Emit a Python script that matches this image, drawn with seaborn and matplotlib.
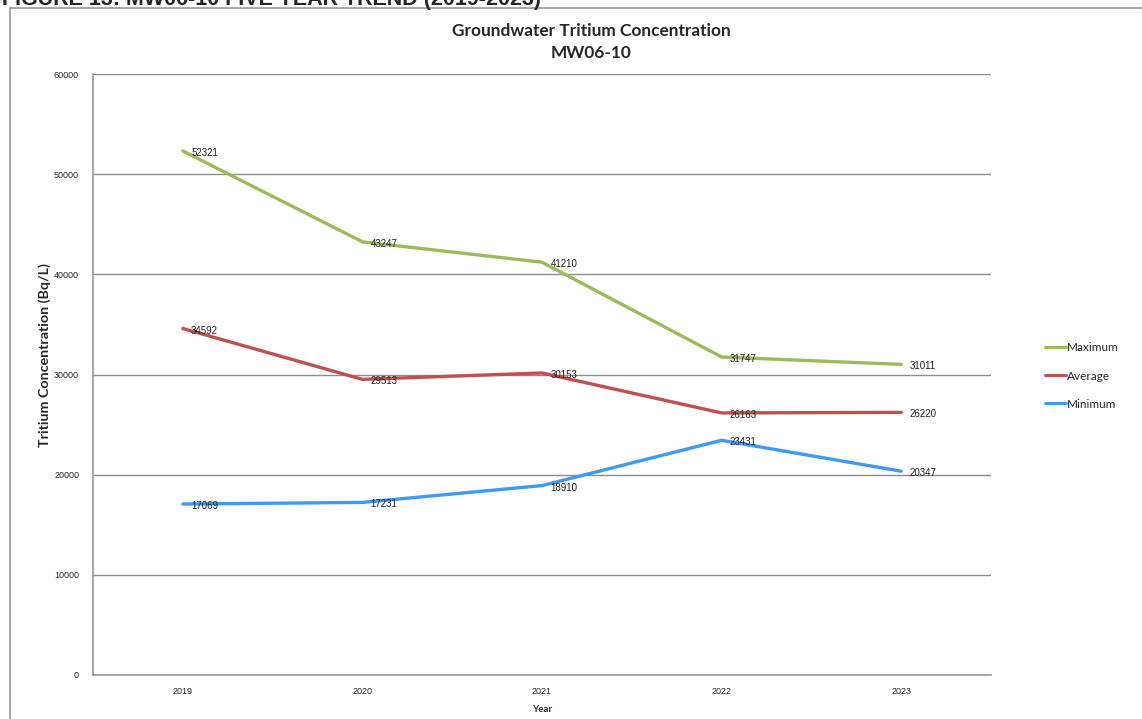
import matplotlib
matplotlib.use("Agg")
import matplotlib.pyplot as plt
from matplotlib.lines import Line2D
import pandas as pd
import seaborn as sns

years = ["2019", "2020", "2021", "2022", "2023"]
maximum = [52321, 43247, 41210, 31747, 31011]
average = [34592, 29513, 30153, 26163, 26220]
minimum = [17069, 17231, 18910, 23431, 20347]
series_names = ["Maximum", "Average", "Minimum"]
y_ticks = [0, 10000, 20000, 30000, 40000, 50000, 60000]

colors = {"Maximum": "#9BBB59", "Average": "#C0504D", "Minimum": "#3D9BF7"}

df = pd.DataFrame({"Year": years, "Maximum": maximum,
                   "Average": average, "Minimum": minimum})
long = df.melt(id_vars="Year", var_name="Series", value_name="Value")
long["x"] = long["Year"].map({y: i for i, y in enumerate(years)})

sns.set_theme(style="white")
plt.rcParams["font.family"] = ["Lato", "DejaVu Sans"]

fig = plt.figure(figsize=(11.42, 7.19), dpi=100)
ax = fig.add_axes([93 / 1142, 1 - 675 / 719, (991 - 93) / 1142, (675 - 74) / 719])

sns.lineplot(data=long, x="x", y="Value", hue="Series", hue_order=series_names,
             palette=colors, linewidth=2.4, ax=ax, legend=False, sort=False)

# data labels
for name in series_names:
    for i, v in enumerate(df[name]):
        ax.annotate(str(v), (i, v), xytext=(6, -1.5), textcoords="offset points",
                    ha="left", va="center", fontsize=7, color="#222222",
                    family=["Liberation Sans", "DejaVu Sans"])

ax.set_xlim(-0.5, len(years) - 0.5)
ax.set_ylim(0, 60000)
ax.set_yticks(y_ticks)
ax.set_yticklabels([str(t) for t in y_ticks], fontsize=6.5,
                   family=["Liberation Sans", "DejaVu Sans"])
ax.set_xticks(range(len(years)))
ax.set_xticklabels(years, fontsize=6.5, family=["Liberation Sans", "DejaVu Sans"])
ax.set_xticks([i - 0.5 for i in range(len(years) + 1)], minor=True)
ax.tick_params(axis="x", which="major", length=0, pad=9)
ax.tick_params(axis="x", which="minor", length=4, color="#999999", direction="out", width=1)
ax.tick_params(axis="y", length=4, color="#999999", direction="out", width=1, pad=6)
ax.grid(axis="y", color="#8c8c8c", linewidth=1)
ax.set_axisbelow(True)
for s in ["top", "right"]:
    ax.spines[s].set_visible(False)
for s in ["left", "bottom"]:
    ax.spines[s].set_color("#999999")
    ax.spines[s].set_linewidth(1.2)

ax.set_xlabel("Year", fontsize=7, fontweight="bold", labelpad=6)
ax.set_ylabel("Tritium Concentration (Bq/L)", fontsize=10.3, fontweight="bold")
ax.yaxis.set_label_coords(-0.047, 0.532)

fig.text(591 / 1142, 1 - 42 / 719, "Groundwater Tritium Concentration\nMW06-10",
         ha="center", va="center", fontsize=12.4, fontweight="bold", linespacing=1.4)

handles = [Line2D([0], [0], color=colors[n], lw=2.2) for n in series_names]
fig.legend(handles, series_names, loc="center left",
           bbox_to_anchor=(1034 / 1142, 1 - 376 / 719), frameon=False,
           fontsize=8.5, handlelength=1.8, handletextpad=0.1, labelspacing=1.45)

# outer chart frame and header cut off at the top edge
fig.add_artist(Line2D([10 / 1142, 10 / 1142], [0, 1 - 8 / 719], color="#999999", lw=1.2))
fig.add_artist(Line2D([10 / 1142, 1], [1 - 8 / 719, 1 - 8 / 719], color="#999999", lw=1.2))
fig.text(2 / 1142, 1 - 5 / 719, "FIGURE 13: MW06-10 FIVE YEAR TREND (2019-2023)",
         ha="left", va="baseline", fontsize=15.5, fontweight="bold",
         family=["Liberation Sans", "DejaVu Sans"])

fig.savefig("out.png", dpi=100, facecolor="white")
